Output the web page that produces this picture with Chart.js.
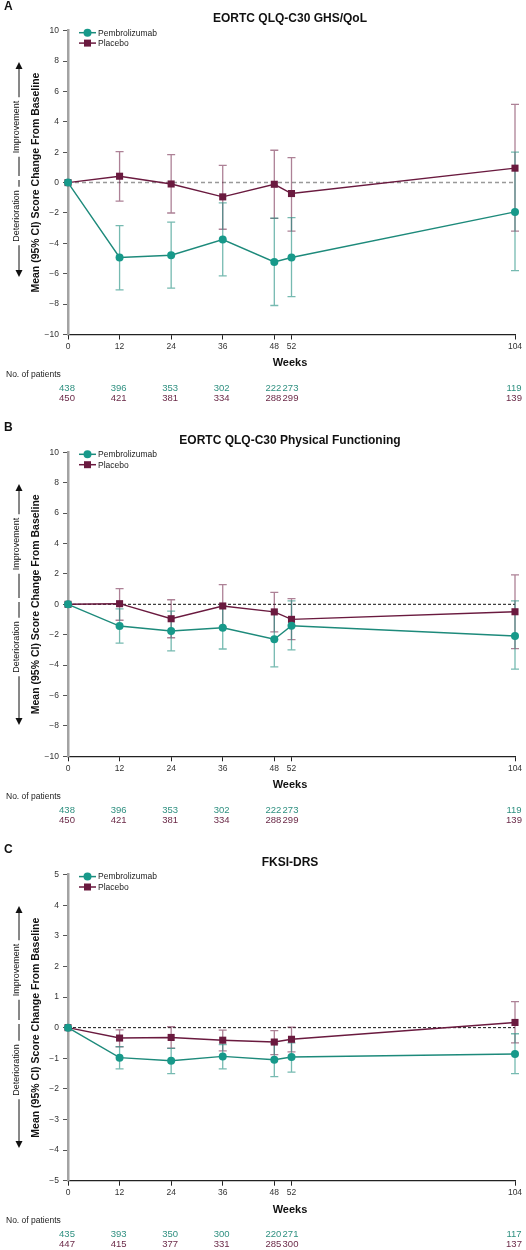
<!DOCTYPE html>
<html>
<head>
<meta charset="utf-8">
<script src="https://cdn.jsdelivr.net/npm/chart.js@4.4.1/dist/chart.umd.min.js"></script>
<style>
  html, body { margin: 0; padding: 0; background: #fff; }
  #page { position: relative; width: 526px; height: 1250px; overflow: hidden; }
  .panel { position: absolute; left: 0; width: 526px; height: 420px; }
</style>
</head>
<body>
<div id="page">
  <div class="panel" style="top:0px"><canvas id="chartA"></canvas></div>
  <div class="panel" style="top:422px"><canvas id="chartB"></canvas></div>
  <div class="panel" style="top:844px; height:406px"><canvas id="chartC"></canvas></div>
</div>
<script>
// Weeks on the x axis (also the tick positions)
const weeks = [0, 12, 24, 36, 48, 52, 104];

// A: EORTC QLQ-C30 GHS/QoL
const ghsPembroMean = [0, -4.93, -4.78, -3.75, -5.22, -4.93, -1.93];
const ghsPembroLow = [0, -7.06, -6.95, -6.14, -8.09, -7.5, -5.79];
const ghsPembroHigh = [0, -2.83, -2.6, -1.34, -2.34, -2.3, 2.0];
const ghsPlaceboMean = [0, 0.42, -0.09, -0.94, -0.11, -0.72, 0.95];
const ghsPlaceboLow = [0, -1.22, -2.0, -3.07, -2.35, -3.2, -3.2];
const ghsPlaceboHigh = [0, 2.04, 1.84, 1.14, 2.13, 1.64, 5.15];
const ghsPembroN = [438, 396, 353, 302, 222, 273, 119];
const ghsPlaceboN = [450, 421, 381, 334, 288, 299, 139];

// B: EORTC QLQ-C30 Physical Functioning
const pfPembroMean = [0, -1.43, -1.76, -1.54, -2.3, -1.41, -2.09];
const pfPembroLow = [0, -2.55, -3.07, -2.94, -4.12, -3.0, -4.26];
const pfPembroHigh = [0, -0.3, -0.45, -0.1, -0.5, 0.22, 0.22];
const pfPlaceboMean = [0, 0.04, -0.95, -0.11, -0.5, -0.99, -0.49];
const pfPlaceboLow = [0, -1.05, -2.2, -1.5, -1.82, -2.33, -2.92];
const pfPlaceboHigh = [0, 1.03, 0.3, 1.3, 0.79, 0.37, 1.93];
const pfPembroN = [438, 396, 353, 302, 222, 273, 119];
const pfPlaceboN = [450, 421, 381, 334, 288, 299, 139];

// C: FKSI-DRS
const drsPembroMean = [0, -0.98, -1.08, -0.94, -1.05, -0.96, -0.86];
const drsPembroLow = [0, -1.35, -1.5, -1.35, -1.6, -1.45, -1.5];
const drsPembroHigh = [0, -0.62, -0.68, -0.55, -0.52, -0.5, -0.2];
const drsPlaceboMean = [0, -0.34, -0.32, -0.41, -0.47, -0.38, 0.17];
const drsPlaceboLow = [0, -0.63, -0.67, -0.76, -0.88, -0.79, -0.5];
const drsPlaceboHigh = [0, -0.07, 0.03, -0.08, -0.1, 0.02, 0.85];
const drsPembroN = [435, 393, 350, 300, 220, 271, 117];
const drsPlaceboN = [447, 415, 377, 331, 285, 300, 137];

const TEAL = '#17998a';
const TEAL_LINE = '#1d8a7b';
const MAROON = '#6a1a3f';
const TEAL_BAR = 'rgba(27, 140, 125, 0.6)';
const MAROON_BAR = 'rgba(106, 26, 63, 0.55)';
const TEAL_TEXT = '#2f9080';
const MAROON_TEXT = '#6b2a48';
const FONT = '"Liberation Sans", Arial, sans-serif';

Chart.defaults.font.family = FONT;
Chart.defaults.color = '#333';

function overlay(p) {
  return {
    id: 'overlay',
    beforeDatasetsDraw(chart) {
      const { ctx, scales: { x, y } } = chart;
      ctx.save();
      // reference line at zero
      const y0 = y.getPixelForValue(0);
      ctx.strokeStyle = p.zeroColor;
      ctx.lineWidth = p.zeroWidth;
      ctx.setLineDash(p.zeroDash);
      ctx.beginPath();
      ctx.moveTo(x.left, y0);
      ctx.lineTo(x.right, y0);
      ctx.stroke();
      ctx.setLineDash([]);
      // 95% CI whiskers
      [[p.placeboLow, p.placeboHigh, MAROON_BAR], [p.pembroLow, p.pembroHigh, TEAL_BAR]].forEach(([lo, hi, col]) => {
        ctx.strokeStyle = col;
        ctx.lineWidth = 1.3;
        weeks.forEach((w, i) => {
          if (lo[i] === hi[i]) return;
          const px = x.getPixelForValue(w);
          const a = y.getPixelForValue(hi[i]);
          const b = y.getPixelForValue(lo[i]);
          ctx.beginPath();
          ctx.moveTo(px, a); ctx.lineTo(px, b);
          ctx.moveTo(px - 4, a); ctx.lineTo(px + 4, a);
          ctx.moveTo(px - 4, b); ctx.lineTo(px + 4, b);
          ctx.stroke();
        });
      });
      ctx.restore();
    },
    afterDraw(chart) {
      const { ctx, chartArea: area, scales: { x } } = chart;
      ctx.save();
      ctx.fillStyle = '#111';
      // panel letter
      ctx.font = 'bold 12px ' + FONT;
      ctx.textAlign = 'left';
      ctx.textBaseline = 'middle';
      ctx.fillText(p.letter, 4, p.letterY);
      // title
      ctx.font = 'bold 12px ' + FONT;
      ctx.textAlign = 'center';
      ctx.fillText(p.title, 290, 18.5);
      // axis title
      ctx.save();
      ctx.translate(36.5, (area.top + area.bottom) / 2);
      ctx.rotate(-Math.PI / 2);
      ctx.font = 'bold 10.5px ' + FONT;
      ctx.fillText('Mean (95% CI) Score Change From Baseline', 0, 0);
      ctx.restore();
      // Improvement / Deterioration arrows
      const ax = 19;
      ctx.font = '9px ' + FONT;
      ctx.strokeStyle = '#111';
      ctx.lineWidth = 1;
      const drawSide = (label, center, tip, end) => {
        const half = ctx.measureText(label).width / 2 + 3.5;
        const dir = tip < end ? 1 : -1;
        ctx.beginPath();
        ctx.moveTo(ax, tip + dir * 5);
        ctx.lineTo(ax, center - dir * half);
        ctx.moveTo(ax, center + dir * half);
        ctx.lineTo(ax, end);
        ctx.stroke();
        ctx.beginPath();
        ctx.moveTo(ax, tip);
        ctx.lineTo(ax - 3.5, tip + dir * 7);
        ctx.lineTo(ax + 3.5, tip + dir * 7);
        ctx.closePath();
        ctx.fill();
        ctx.save();
        ctx.translate(ax - 2, center);
        ctx.rotate(-Math.PI / 2);
        ctx.fillText(label, 0, 0);
        ctx.restore();
      };
      drawSide('Improvement', p.impCenter, 62, 176);
      drawSide('Deterioration', p.detCenter, p.detTip, 180);
      // legend
      ctx.font = '8.5px ' + FONT;
      ctx.textAlign = 'left';
      const legend = [['Pembrolizumab', TEAL, TEAL_LINE, 'circle'], ['Placebo', MAROON, MAROON, 'square']];
      legend.forEach(([name, fill, line, shape], i) => {
        const ly = area.top + 2 + i * 10.4;
        ctx.strokeStyle = line;
        ctx.lineWidth = 1.5;
        ctx.beginPath();
        ctx.moveTo(79, ly);
        ctx.lineTo(96, ly);
        ctx.stroke();
        ctx.fillStyle = fill;
        ctx.beginPath();
        if (shape === 'circle') ctx.arc(87.5, ly, 4, 0, Math.PI * 2);
        else ctx.rect(84, ly - 3.5, 7, 7);
        ctx.fill();
        ctx.fillStyle = '#222';
        ctx.fillText(name, 98, ly + 0.5);
      });
      // x axis title
      ctx.fillStyle = '#111';
      ctx.font = 'bold 11px ' + FONT;
      ctx.textAlign = 'center';
      ctx.fillText('Weeks', 290, area.bottom + 28.8);
      // patients at risk
      ctx.font = '8.5px ' + FONT;
      ctx.textAlign = 'left';
      ctx.fillStyle = '#222';
      ctx.fillText('No. of patients', 6, area.bottom + 40.4);
      ctx.font = '9.5px ' + FONT;
      ctx.textAlign = 'center';
      weeks.forEach((w, i) => {
        const px = x.getPixelForValue(w);
        ctx.fillStyle = TEAL_TEXT;
        ctx.fillText(String(p.pembroN[i]), px - 1, area.bottom + 53.7);
        ctx.fillStyle = MAROON_TEXT;
        ctx.fillText(String(p.placeboN[i]), px - 1, area.bottom + 63.7);
      });
      ctx.restore();
    }
  };
}

function makePanel(id, p) {
  const ctx = document.getElementById(id).getContext('2d');
  const xAxisH = 20;
  return new Chart(ctx, {
    type: 'line',
    data: {
      datasets: [
        {
          label: 'Pembrolizumab',
          data: weeks.map((w, i) => ({ x: w, y: p.pembroMean[i] })),
          borderColor: TEAL_LINE,
          backgroundColor: TEAL,
          borderWidth: 1.4,
          pointStyle: 'circle',
          pointRadius: 4,
          pointBorderWidth: 0,
          pointBackgroundColor: TEAL,
          tension: 0,
          clip: false
        },
        {
          label: 'Placebo',
          data: weeks.map((w, i) => ({ x: w, y: p.placeboMean[i] })),
          borderColor: MAROON,
          backgroundColor: MAROON,
          borderWidth: 1.4,
          pointStyle: 'rect',
          pointRadius: 5,
          pointBorderWidth: 0,
          pointBackgroundColor: MAROON,
          tension: 0,
          clip: false
        }
      ]
    },
    options: {
      responsive: true,
      maintainAspectRatio: false,
      animation: false,
      events: [],
      layout: {
        padding: {
          left: 38,
          right: 11,
          top: p.plotTop,
          bottom: p.height - p.plotBottom - xAxisH
        }
      },
      plugins: {
        legend: { display: false },
        title: { display: false },
        tooltip: { enabled: false }
      },
      scales: {
        x: {
          type: 'linear',
          min: 0,
          max: 104,
          afterBuildTicks: (axis) => { axis.ticks = weeks.map(v => ({ value: v })); },
          afterFit: (axis) => { axis.height = xAxisH; },
          grid: { drawOnChartArea: false, drawTicks: true, tickLength: 5, tickColor: '#222', tickWidth: 1 },
          border: { color: '#222', width: 1.2 },
          ticks: {
            autoSkip: false,
            maxRotation: 0,
            padding: 2,
            color: '#333',
            font: { size: 8.5, family: FONT }
          }
        },
        y: {
          min: p.yMin,
          max: p.yMax,
          afterFit: (axis) => { axis.width = 30; },
          grid: { drawOnChartArea: false, drawTicks: true, tickLength: 5, tickColor: '#555', tickWidth: 1 },
          border: { color: '#a3a3a3', width: 2.5 },
          ticks: {
            stepSize: p.yStep,
            padding: 4,
            color: '#333',
            font: { size: 8.5, family: FONT },
            callback: (v) => String(v).replace('-', '\u2212')
          }
        }
      }
    },
    plugins: [overlay(p)]
  });
}

makePanel('chartA', {
  letter: 'A', letterY: 7, title: 'EORTC QLQ-C30 GHS/QoL',
  height: 420, plotTop: 30.7, plotBottom: 334.5,
  yMin: -10, yMax: 10, yStep: 2,
  zeroColor: '#999', zeroWidth: 1.5, zeroDash: [4, 3],
  impCenter: 127, detCenter: 216, detTip: 277,
  pembroMean: ghsPembroMean, pembroLow: ghsPembroLow, pembroHigh: ghsPembroHigh,
  placeboMean: ghsPlaceboMean, placeboLow: ghsPlaceboLow, placeboHigh: ghsPlaceboHigh,
  pembroN: ghsPembroN, placeboN: ghsPlaceboN
});

makePanel('chartB', {
  letter: 'B', letterY: 6, title: 'EORTC QLQ-C30 Physical Functioning',
  height: 420, plotTop: 30.3, plotBottom: 334.3,
  yMin: -10, yMax: 10, yStep: 2,
  zeroColor: '#111', zeroWidth: 1, zeroDash: [3, 2],
  impCenter: 122, detCenter: 225, detTip: 303,
  pembroMean: pfPembroMean, pembroLow: pfPembroLow, pembroHigh: pfPembroHigh,
  placeboMean: pfPlaceboMean, placeboLow: pfPlaceboLow, placeboHigh: pfPlaceboHigh,
  pembroN: pfPembroN, placeboN: pfPlaceboN
});

makePanel('chartC', {
  letter: 'C', letterY: 6, title: 'FKSI-DRS',
  height: 406, plotTop: 30.6, plotBottom: 336.7,
  yMin: -5, yMax: 5, yStep: 1,
  zeroColor: '#111', zeroWidth: 1, zeroDash: [3, 2],
  impCenter: 126, detCenter: 226, detTip: 304,
  pembroMean: drsPembroMean, pembroLow: drsPembroLow, pembroHigh: drsPembroHigh,
  placeboMean: drsPlaceboMean, placeboLow: drsPlaceboLow, placeboHigh: drsPlaceboHigh,
  pembroN: drsPembroN, placeboN: drsPlaceboN
});
</script>
</body>
</html>
